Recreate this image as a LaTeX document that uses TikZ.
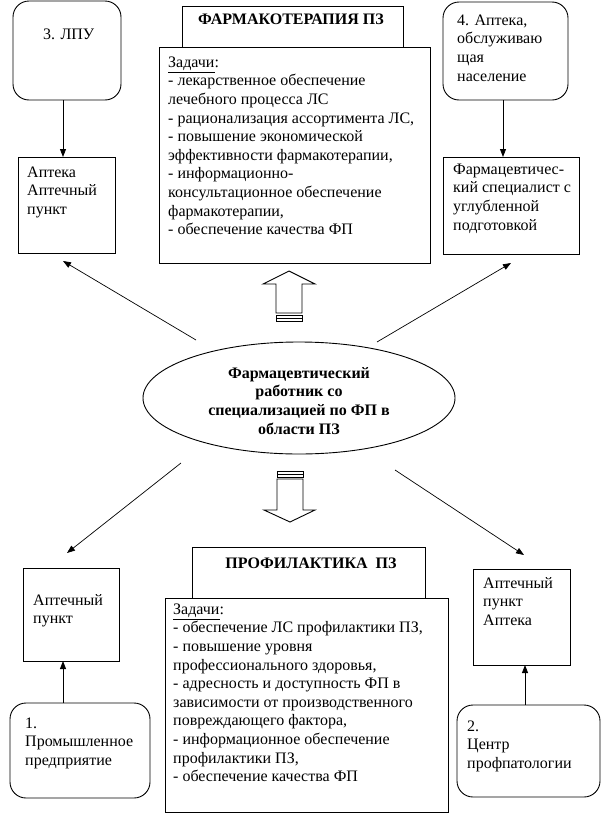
\documentclass[tikz,border=0pt]{standalone}
\usepackage{fontspec}
\setmainfont{Liberation Serif}
\usetikzlibrary{arrows.meta,shapes.geometric}
\newcommand{\bodyfs}{\fontsize{16}{18.6}\selectfont}
\begin{document}
\begin{tikzpicture}[x=1pt,y=-1pt,
  box/.style={draw, line width=0.9pt, inner sep=0pt, outer sep=0pt},
  rbox/.style={box, rounded corners=16pt},
  txt/.style={anchor=north west, align=left, inner sep=0pt, font=\bodyfs},
  ctxt/.style={anchor=north, align=center, inner sep=0pt, font=\bodyfs\bfseries},
  arr/.style={line width=0.9pt, -{Triangle[length=8pt,width=6pt]}},
  diag/.style={line width=0.7pt, -{Triangle[length=8pt,width=6pt]}},
  blk/.style={draw, line width=0.9pt, fill=white}]
\useasboundingbox (0,0) rectangle (606,814);

% top left
\node[rbox, minimum width=108pt, minimum height=99pt] (lpu) at (67,50.5) {};
\node[txt] (lput) at (43,26) {\strut 3. ЛПУ};
\node[box, minimum width=97pt, minimum height=96pt] (apt1) at (66.5,205) {};
\node[txt] (apt1t) at (27,164) {\strut Аптека\\Аптечный\\пункт};

% top centre
\node[box, minimum width=221pt, minimum height=41pt] (phh) at (292.5,26.5) {};
\node[ctxt] (phht) at (291,11) {\strut ФАРМАКОТЕРАПИЯ ПЗ};
\node[box, minimum width=271pt, minimum height=216pt] (phm) at (294.5,155) {};
\node[txt] (phmt) at (168,54) {\strut\underline{Задачи}:\\
- лекарственное обеспечение\\
лечебного процесса ЛС\\
- рационализация ассортимента ЛС,\\
- повышение экономической\\
эффективности фармакотерапии,\\
- информационно-\\
консультационное обеспечение\\
фармакотерапии,\\
- обеспечение качества ФП};

% top right
\node[rbox, minimum width=125pt, minimum height=98pt] (apt4) at (505.5,51) {};
\node[txt] (apt4t) at (457,12) {\strut 4. Аптека,\\обслуживаю\\щая\\население};
\node[box, minimum width=136pt, minimum height=97pt] (spec) at (511,205.5) {};
\node[txt] (spect) at (453,161) {\strut Фармацевтичес-\\кий специалист с\\углубленной\\подготовкой};

% ellipse
\node[ellipse, draw, line width=0.9pt, minimum width=312pt, minimum height=112pt, inner sep=0pt] (ell) at (299,398) {};
\node[ctxt] (ellt) at (299,365) {\strut Фармацевтический\\работник со\\специализацией по ФП в\\области ПЗ};

% bottom centre
\node[box, minimum width=233pt, minimum height=51pt] (prh) at (308.5,572.5) {};
\node[ctxt] (prht) at (311,555) {\strut ПРОФИЛАКТИКА\ \ ПЗ};
\node[box, minimum width=283pt, minimum height=214pt] (prm) at (306.5,705) {};
\node[txt] (prmt) at (173,601) {\strut\underline{Задачи}:\\
- обеспечение ЛС профилактики ПЗ,\\
- повышение уровня\\
профессионального здоровья,\\
- адресность и доступность ФП в\\
зависимости от производственного\\
повреждающего фактора,\\
- информационное обеспечение\\
профилактики ПЗ,\\
- обеспечение качества ФП};

% bottom left
\node[box, minimum width=96pt, minimum height=93pt] (aptl) at (71,614.5) {};
\node[txt] (aptlt) at (33,592) {\strut Аптечный\\пункт};
\node[rbox, minimum width=140pt, minimum height=95pt] (pr1) at (80,750.5) {};
\node[txt] (pr1t) at (25,715) {\strut 1.\\Промышленное\\предприятие};

% bottom right
\node[box, minimum width=97pt, minimum height=96pt] (aptr) at (521.5,617) {};
\node[txt] (aptrt) at (483,575) {\strut Аптечный\\пункт\\Аптека};
\node[rbox, minimum width=143pt, minimum height=92pt] (pr2) at (528.5,751) {};
\node[txt] (pr2t) at (467,718) {\strut 2.\\Центр\\профпатологии};

% vertical connectors
\draw[arr] ([xshift=-4pt]lpu.south) -- ([xshift=-3.5pt]apt1.north);
\draw[arr] ([xshift=-2.5pt]apt4.south) -- ([xshift=-8pt]spec.north);
\draw[arr] ([xshift=-17pt]pr1.north) -- ([xshift=-8pt]aptl.south);
\draw[arr] ([xshift=-3.5pt]pr2.north) -- ([xshift=3.5pt]aptr.south);

% diagonal connectors
\coordinate (d1a) at (196,340); \coordinate (d1b) at (63,261);
\coordinate (d2a) at (377,342); \coordinate (d2b) at (511,263);
\coordinate (d3a) at (181,463); \coordinate (d3b) at (67,553);
\coordinate (d4a) at (395,470); \coordinate (d4b) at (524,555);
\draw[diag] (d1a) -- (d1b);
\draw[diag] (d2a) -- (d2b);
\draw[diag] (d3a) -- (d3b);
\draw[diag] (d4a) -- (d4b);

% block arrow up
\draw[blk] (289,271) -- (315,284) -- (302,284) -- (302,313) -- (276,313) -- (276,284) -- (263,284) -- cycle;
\draw[blk] (276,315) rectangle (302,321);
\draw[line width=0.9pt] (276,318) -- (302,318);
% block arrow down
\draw[blk] (277,471) rectangle (303,477);
\draw[line width=0.9pt] (277,474) -- (303,474);
\draw[blk] (277,479) -- (303,479) -- (303,510) -- (315,510) -- (290,522) -- (264,510) -- (277,510) -- cycle;
\end{tikzpicture}
\end{document}
